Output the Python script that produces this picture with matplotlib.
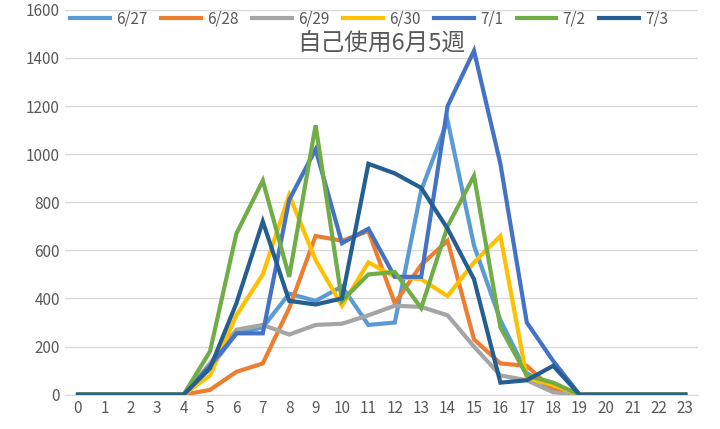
import matplotlib
matplotlib.use("Agg")
import matplotlib.pyplot as plt

plt.rcParams['font.family'] = ['Noto Sans CJK JP', 'DejaVu Sans']

hours = list(range(24))
labels = ["6/27", "6/28", "6/29", "6/30", "7/1", "7/2", "7/3"]
colors = ["#5B9BD5", "#ED7D31", "#A5A5A5", "#FFC000", "#4472C4", "#70AD47", "#255E91"]
z = [0]*5
tail = [0]*5
s627 = z + [110, 255, 280, 420, 390, 450, 290, 300, 850, 1140, 620, 310, 90, 20] + tail
s628 = z + [20, 95, 130, 360, 660, 640, 680, 380, 540, 640, 230, 130, 120, 20] + tail
s629 = z + [130, 270, 290, 250, 290, 295, 330, 370, 365, 330, 200, 80, 60, 10] + tail
s630 = z + [80, 330, 500, 830, 560, 370, 550, 490, 480, 410, 550, 660, 70, 40] + tail
s71 = z + [120, 255, 255, 810, 1020, 630, 690, 490, 490, 1200, 1430, 960, 300, 140] + tail
s72 = z + [180, 670, 890, 490, 1120, 390, 500, 510, 360, 700, 910, 280, 80, 50] + tail
s73 = z + [110, 380, 720, 390, 375, 400, 960, 920, 860, 690, 480, 50, 60, 120] + tail
series = [s627, s628, s629, s630, s71, s72, s73]

fig = plt.figure(figsize=(7.2, 4.29), dpi=100)
ax = fig.add_axes([0.09, 0.08, 0.88, 0.897])
for s, l, c in zip(series, labels, colors):
    ax.plot(hours, s, color=c, lw=3, label=l, solid_joinstyle='miter')
ax.set_ylim(0, 1600)
ax.set_xlim(-0.5, 23.5)
ax.set_xticks(hours)
ax.set_yticks(range(0, 1601, 200))
ax.grid(axis='y', color='#D9D9D9', lw=1)
ax.set_axisbelow(True)
for sp in ['top', 'right', 'left']:
    ax.spines[sp].set_visible(False)
ax.spines['bottom'].set_color('#D9D9D9')
ax.tick_params(length=0, labelsize=11, colors='#595959')
ax.set_title("自己使用6月5週", fontsize=17, color='#595959', y=0.875)
ax.legend(loc='upper center', bbox_to_anchor=(0.48, 1.035), ncol=7, frameon=False,
          fontsize=11, handlelength=2.6, handletextpad=0.4, columnspacing=0.9,
          labelcolor='#595959')
fig.savefig("out.png")
